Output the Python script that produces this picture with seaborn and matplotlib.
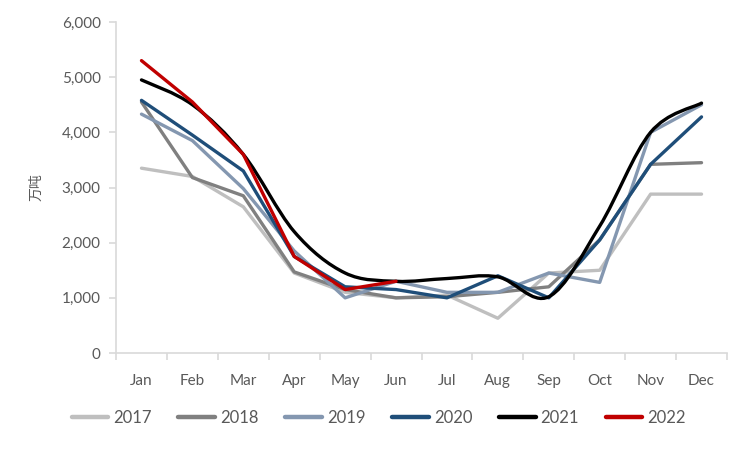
import numpy as np
import pandas as pd
import matplotlib
matplotlib.use("Agg")
import matplotlib.pyplot as plt
from matplotlib.path import Path
from matplotlib.patches import PathPatch
from matplotlib.lines import Line2D
from matplotlib.ticker import FuncFormatter, FixedLocator
import seaborn as sns

months = ["Jan", "Feb", "Mar", "Apr", "May", "Jun",
          "Jul", "Aug", "Sep", "Oct", "Nov", "Dec"]

y2017 = [3350, 3200, 2650, 1450, 1100, 1000, 1050, 630, 1450, 1500, 2880, 2880]
y2018 = [4550, 3180, 2850, 1470, 1150, 1000, 1020, 1100, 1200, 2050, 3420, 3450]
y2019 = [4330, 3850, 2980, 1850, 1000, 1300, 1100, 1100, 1450, 1280, 4000, 4500]
y2020 = [4580, 3950, 3300, 1750, 1200, 1150, 1000, 1400, 1000, 2050, 3420, 4280]
y2021 = [4950, 4500, 3600, 2200, 1450, 1300, 1350, 1380, 1020, 2300, 4000, 4530]
y2022 = [5300, 4550, 3600, 1750, 1150, 1300]

series = {"2017": y2017, "2018": y2018, "2019": y2019,
          "2020": y2020, "2021": y2021, "2022": y2022}
colors = {"2017": "#BFBFBF", "2018": "#808080", "2019": "#8497B0",
          "2020": "#1F4E79", "2021": "#000000", "2022": "#C00000"}

rows = []
for year, vals in series.items():
    for m, v in zip(months, vals):
        rows.append({"month": m, "value": v, "year": year})
df = pd.DataFrame(rows)

sns.set_style("white")
plt.rcParams["font.family"] = ["Lato", "Noto Sans CJK SC", "DejaVu Sans"]

fig = plt.figure(figsize=(7.5, 4.49), dpi=100)
ax = fig.add_axes([0.1547, 0.2138, 0.8146, 0.7372])

lw = 2.4
for year in ["2017", "2018", "2019", "2020"]:
    sub = df[df["year"] == year]
    sns.lineplot(data=sub, x="month", y="value", color=colors[year],
                 linewidth=lw, ax=ax, zorder=2, sort=False)


def smooth_path(xs, ys):
    # Excel-style smoothed line: Catmull-Rom segments as cubic Beziers
    pts = np.column_stack([xs, ys]).astype(float)
    verts = [pts[0]]
    codes = [Path.MOVETO]
    n = len(pts)
    for i in range(n - 1):
        p0 = pts[i - 1] if i > 0 else pts[i]
        p1 = pts[i]
        p2 = pts[i + 1]
        p3 = pts[i + 2] if i + 2 < n else pts[i + 1]
        c1 = p1 + (p2 - p0) / 6.0
        c2 = p2 - (p3 - p1) / 6.0
        verts += [c1, c2, p2]
        codes += [Path.CURVE4] * 3
    return Path(verts, codes)


xpos = np.arange(len(y2021))
ax.add_patch(PathPatch(smooth_path(xpos, y2021), facecolor="none",
                       edgecolor=colors["2021"], linewidth=lw, zorder=3,
                       capstyle="round", joinstyle="round"))

sub = df[df["year"] == "2022"]
sns.lineplot(data=sub, x="month", y="value", color=colors["2022"],
             linewidth=lw, ax=ax, zorder=4, sort=False)

ax.set_xlim(-0.5, 11.5)
ax.set_ylim(0, 6000)
ax.set_yticks(range(0, 6001, 1000))
ax.yaxis.set_major_formatter(FuncFormatter(lambda v, p: f"{int(v):,}"))
ax.set_xticks(range(12))
ax.set_xticklabels(months)
ax.xaxis.set_minor_locator(FixedLocator(np.arange(-0.5, 12, 1)))

ax.tick_params(axis="x", which="major", length=0, pad=15,
               labelsize=11, labelcolor="#595959")
ax.tick_params(axis="x", which="minor", length=5, width=1.2,
               color="#D9D9D9", direction="out", bottom=True)
ax.tick_params(axis="y", length=5, width=1.2, color="#D9D9D9",
               direction="out", left=True, pad=6,
               labelsize=11, labelcolor="#595959")

for s in ["top", "right"]:
    ax.spines[s].set_visible(False)
for s in ["left", "bottom"]:
    ax.spines[s].set_color("#D9D9D9")
    ax.spines[s].set_linewidth(1.2)

ax.set_xlabel("")
ax.set_ylabel("万吨", fontsize=10, color="#595959",
              family=["Noto Sans CJK SC", "DejaVu Sans"], labelpad=13)

handles = [Line2D([0], [0], color=colors[y], linewidth=3.2,
                  solid_capstyle="round") for y in series]
leg = fig.legend(handles, list(series.keys()), loc="center",
                 bbox_to_anchor=(0.505, 0.069), ncol=6, frameon=False,
                 fontsize=12, handlelength=2.2, handletextpad=0.3,
                 columnspacing=1.6)
for t in leg.get_texts():
    t.set_color("#595959")

fig.savefig("out.png", dpi=100)
